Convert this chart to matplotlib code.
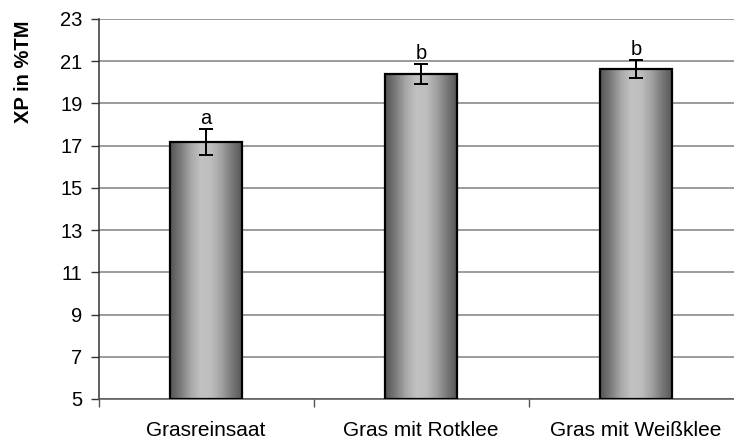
import matplotlib
matplotlib.use("Agg")
import matplotlib.pyplot as plt
import numpy as np
from matplotlib.colors import LinearSegmentedColormap
from matplotlib.patches import Rectangle

categories = ["Grasreinsaat", "Gras mit Rotklee", "Gras mit Weißklee"]
values = [17.16, 20.39, 20.62]
errors = [0.61, 0.46, 0.42]
letters = ["a", "b", "b"]
yticks = [5, 7, 9, 11, 13, 15, 17, 19, 21, 23]

plt.rcParams['font.family'] = ['Liberation Sans', 'DejaVu Sans']

W, H = 734, 441
fig = plt.figure(figsize=(W / 100, H / 100), dpi=100)
ax = fig.add_axes([98.5 / W, (H - 399) / H, (W - 98.5) / W, 380 / H])

ax.set_ylim(5, 23)
ax.set_xlim(-0.5, (W - 98.5) / 215 - 0.5)

for y in yticks:
    ax.axhline(y, color="#808080", lw=1.1, zorder=1)

grad = LinearSegmentedColormap.from_list(
    "cyl", ["#555555", "#7a7a7a", "#a8a8a8", "#c2c2c2", "#bdbdbd", "#a0a0a0", "#777777", "#555555"])
gimg = np.linspace(0, 1, 256).reshape(1, -1)

bw = 0.335
x = np.arange(len(categories))
bars = ax.bar(x, [v - 5 for v in values], bottom=5, width=bw, color="none",
              edgecolor="black", linewidth=1.6, zorder=3)
for b in bars:
    x0, y0 = b.get_x(), b.get_y()
    w, h = b.get_width(), b.get_height()
    im = ax.imshow(gimg, cmap=grad, aspect="auto", extent=[x0, x0 + w, y0, y0 + h],
                   zorder=2, interpolation="bilinear")
    im.set_clip_path(Rectangle((x0, y0), w, h, transform=ax.transData))

ax.errorbar(x, values, yerr=errors, fmt="none", ecolor="black", elinewidth=1.4,
            capsize=5.2, capthick=1.4, zorder=4)

for xi, v, e, l in zip(x, values, errors, letters):
    ax.annotate(l, (xi, v + e), xytext=(0, 1), textcoords="offset points",
                ha="center", va="bottom", fontsize=14.5, zorder=5)

ax.set_xlim(-0.5, (W - 98.5) / 215 - 0.5)
ax.set_ylim(5, 23)

for s in ["top", "right"]:
    ax.spines[s].set_visible(False)
ax.spines["left"].set_color("#333333")
ax.spines["left"].set_linewidth(1.1)
ax.spines["bottom"].set_color("#555555")
ax.spines["bottom"].set_linewidth(1.1)
ax.spines["bottom"].set_zorder(2.5)

ax.set_yticks(yticks)
ax.set_yticklabels([str(t) for t in yticks], fontsize=14.5)
ax.tick_params(axis="y", length=5.5, width=1, color="#333333", pad=6)

ax.set_xticks(x)
ax.set_xticklabels(categories, fontsize=15)
ax.set_xticks([-0.5, 0.5, 1.5], minor=True)
ax.tick_params(axis="x", which="major", length=0, pad=15.5)
ax.tick_params(axis="x", which="minor", length=6, width=1, color="#555555")

fig.text(23.5 / W, 1 - 71.5 / H, "XP in %TM", rotation=90, ha="center", va="center",
         fontsize=14.5, fontweight="bold")

fig.savefig("out.png", dpi=100)
